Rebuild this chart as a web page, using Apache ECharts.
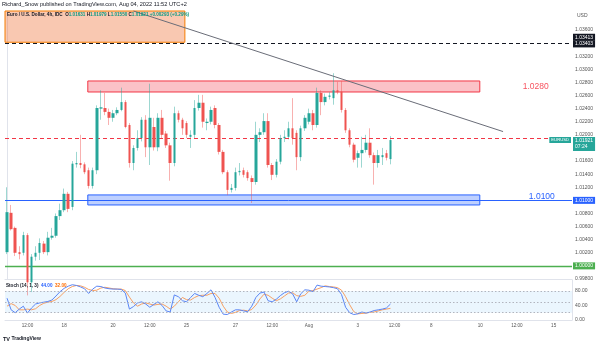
<!DOCTYPE html>
<html><head><meta charset="utf-8">
<script src="https://cdn.jsdelivr.net/npm/echarts@6/dist/echarts.min.js"></script>
<style>html,body{margin:0;padding:0;background:#fff}#c{width:601px;height:346px}</style>
</head><body><div id="c"></div>
<script>
// ---- data ----
const SLOT_COUNT = 139; // 4h slots shown on the time axis (candles + future space)
const tickLabels = {5:'12:00',14:'18',26:'20',35:'12:00',44:'25',56:'27',65:'12:00',74:'Aug',86:'3',95:'12:00',104:'8',116:'10',125:'12:00',134:'15'};
const opens  = [1.0021,1.0081,1.0058,1.0021,1.0020,1.0047,0.9975,1.0014,1.0020,1.0034,1.0021,1.0043,1.0046,1.0076,1.0085,1.0110,1.0090,1.0155,1.0157,1.0155,1.0146,1.0122,1.0146,1.0240,1.0241,1.0235,1.0226,1.0233,1.0238,1.0250,1.0215,1.0157,1.0180,1.0195,1.0223,1.0181,1.0212,1.0181,1.0226,1.0202,1.0184,1.0157,1.0233,1.0223,1.0218,1.0197,1.0200,1.0241,1.0249,1.0218,1.0220,1.0241,1.0215,1.0174,1.0143,1.0116,1.0119,1.0143,1.0146,1.0143,1.0134,1.0128,1.0200,1.0204,1.0221,1.0154,1.0139,1.0159,1.0195,1.0197,1.0210,1.0203,1.0166,1.0210,1.0220,1.0233,1.0215,1.0264,1.0250,1.0258,1.0256,1.0268,1.0266,1.0238,1.0207,1.0185,1.0165,1.0172,1.0177,1.0188,1.0169,1.0157,1.0166,1.0172,1.0163];
const closes = [1.0082,1.0056,1.0020,1.0018,1.0047,0.9975,1.0014,1.0020,1.0035,1.0021,1.0043,1.0046,1.0076,1.0085,1.0110,1.0087,1.0156,1.0157,1.0154,1.0143,1.0122,1.0146,1.0241,1.0242,1.0235,1.0226,1.0233,1.0238,1.0250,1.0212,1.0157,1.0180,1.0195,1.0223,1.0181,1.0226,1.0181,1.0226,1.0200,1.0184,1.0157,1.0233,1.0223,1.0210,1.0200,1.0200,1.0241,1.0249,1.0220,1.0220,1.0238,1.0215,1.0174,1.0143,1.0116,1.0119,1.0143,1.0145,1.0139,1.0134,1.0128,1.0200,1.0204,1.0221,1.0154,1.0139,1.0159,1.0195,1.0197,1.0210,1.0195,1.0166,1.0210,1.0226,1.0233,1.0215,1.0264,1.0250,1.0258,1.0260,1.0268,1.0265,1.0238,1.0207,1.0185,1.0162,1.0172,1.0177,1.0188,1.0169,1.0157,1.0169,1.0169,1.0165,1.0192];
const lows   = [1.0018,1.0054,1.0015,1.0010,1.0016,0.9955,0.9960,1.0008,1.0009,1.0018,1.0016,1.0040,1.0043,1.0070,1.0082,1.0082,1.0085,1.0150,1.0149,1.0140,1.0118,1.0118,1.0140,1.0223,1.0230,1.0215,1.0220,1.0230,1.0236,1.0210,1.0150,1.0146,1.0176,1.0190,1.0166,1.0154,1.0176,1.0175,1.0195,1.0180,1.0130,1.0152,1.0219,1.0200,1.0195,1.0180,1.0195,1.0237,1.0211,1.0207,1.0216,1.0210,1.0170,1.0140,1.0108,1.0112,1.0115,1.0138,1.0135,1.0130,1.0096,1.0124,1.0189,1.0200,1.0150,1.0131,1.0135,1.0155,1.0189,1.0193,1.0185,1.0146,1.0160,1.0206,1.0216,1.0207,1.0211,1.0230,1.0245,1.0254,1.0246,1.0262,1.0234,1.0203,1.0181,1.0158,1.0150,1.0150,1.0173,1.0165,1.0124,1.0150,1.0154,1.0161,1.0155];
const highs  = [1.0120,1.0093,1.0060,1.0030,1.0052,1.0050,1.0018,1.0030,1.0042,1.0038,1.0052,1.0058,1.0080,1.0095,1.0118,1.0113,1.0160,1.0174,1.0200,1.0158,1.0150,1.0150,1.0245,1.0268,1.0264,1.0240,1.0238,1.0242,1.0272,1.0253,1.0218,1.0184,1.0207,1.0227,1.0230,1.0278,1.0226,1.0233,1.0238,1.0206,1.0188,1.0243,1.0237,1.0226,1.0221,1.0207,1.0253,1.0261,1.0261,1.0225,1.0243,1.0245,1.0218,1.0177,1.0146,1.0125,1.0150,1.0157,1.0150,1.0146,1.0138,1.0220,1.0210,1.0233,1.0233,1.0157,1.0163,1.0200,1.0207,1.0220,1.0256,1.0207,1.0214,1.0230,1.0240,1.0238,1.0272,1.0268,1.0263,1.0265,1.0294,1.0281,1.0282,1.0241,1.0210,1.0188,1.0176,1.0197,1.0200,1.0210,1.0173,1.0177,1.0180,1.0177,1.0198];
const stochK = [60,28,20,30,38,19,33,44,47,49,51,55,66,78,87,93,97,95,91,86,73,85,93,92,88,86,85,85,84,74,30,37,47,50,44,35,43,50,40,25,22,69,64,53,50,62,73,68,64,73,83,62,35,16,15,22,28,28,25,23,38,62,74,77,53,50,57,67,75,79,72,50,72,83,82,78,96,93,92,91,89,86,70,35,20,15,17,22,19,22,26,28,30,33,44];
const stochD = [38,45,40,28,28,30,28,31,40,46,49,51,56,65,76,86,92,95,94,90,84,81,82,88,90,88,86,85,85,81,63,47,38,44,47,44,41,43,44,38,30,38,50,62,56,55,62,67,68,68,73,73,60,38,22,18,21,26,27,25,29,41,58,71,68,60,53,58,66,74,75,67,65,68,79,81,85,89,94,92,91,89,82,64,42,23,17,18,19,21,22,25,28,30,32];
const header = {name:'Euro / U.S. Dollar, 4h, IDC', O:'1.01631', H:'1.01979', L:'1.01550', C:'1.01921', chg:'+0.00293 (+0.29%)'};
const stochLast = {k:'44.00', d:'32.00'};
const lastPrice = 1.01921, countdown = '07:24';
const resistanceZone = [1.02822, 1.02654], supportZone = [1.01083, 1.00930];
const zoneSlots = [19.8, 115.9];
const topBox = {fromSlot:-0.5, toSlot:43.6, top:1.0389, bottom:1.03413};
const blackLevel = 1.03403, redDashLevel = 1.0195, blueLevel = 1.0100, greenLevel = 1.0000;
const trendLine = [[31, 1.0389], [121.6, 1.0205]];
const zoneTexts = [{text:'1.0280', slot:129.6, price:1.0273, color:'#f7525f'}, {text:'1.0100', slot:131.1, price:1.0105, color:'#2962ff'}];

// ---- chart ----
const F = 'Liberation Sans, Arial, sans-serif';
const slots = Array.from({length: SLOT_COUNT}, (_, i) => String(i));
const wickData = opens.map((o, i) => [o, closes[i], lows[i], highs[i]]);
const bodyData = opens.map((o, i) => [o, closes[i], Math.min(o, closes[i]), Math.max(o, closes[i])]);
const UP = '#26a69a', DN = '#ef5350';
const axisGray = '#e0e3eb';
const lblStyle = {fontSize:5, fontFamily:F, color:'#fff', padding:[1,2,1,2], distance:1};

const chart = echarts.init(document.getElementById('c'), null, {renderer:'canvas', width:601, height:346});
chart.setOption({
  animation:false,
  backgroundColor:'#ffffff',
  title:[
    {left:2, top:1, padding:0, text:'Richard_Snow published on TradingView.com, Aug 04, 2022 11:52 UTC+2',
     textStyle:{fontSize:5.6, color:'#131722', fontWeight:'normal', fontFamily:F}},
    {left:7, top:12.5, padding:0,
     text:`{n|${header.name}}  {l|O}{v|${header.O}} {l|H}{v|${header.H}} {l|L}{v|${header.L}} {l|C}{v|${header.C}} {v|${header.chg}}`,
     textStyle:{fontSize:4.6, fontFamily:F, rich:{n:{fontSize:4.6,color:'#131722',fontFamily:F},l:{fontSize:4.6,color:'#131722',fontFamily:F},v:{fontSize:4.6,color:'#089981',fontFamily:F}}}},
    {left:6, top:283, padding:0,
     text:`{n|Stoch (14, 1, 3)}  {k|${stochLast.k}}  {d|${stochLast.d}}`,
     textStyle:{fontSize:4.6, fontFamily:F, rich:{n:{fontSize:4.6,color:'#131722',fontFamily:F},k:{fontSize:4.6,color:'#2962ff',fontFamily:F},d:{fontSize:4.6,color:'#ff6d00',fontFamily:F}}}},
    {left:577, top:13, padding:0, text:'USD', textStyle:{fontSize:5, color:'#555', fontWeight:'normal', fontFamily:F}},
    {left:3, top:336, padding:0, text:'{b|TV} {n|TradingView}',
     textStyle:{fontSize:5, fontFamily:F, rich:{b:{fontSize:5.5,fontWeight:'bold',color:'#131722',fontFamily:F},n:{fontSize:5,color:'#131722',fontFamily:F}}}}
  ],
  grid:[
    {left:5, right:29, top:11, height:268, outerBoundsMode:'none'},
    {left:5, right:29, top:280, height:40, outerBoundsMode:'none'}
  ],
  xAxis:[
    {type:'category', gridIndex:0, data:slots, boundaryGap:true, axisLabel:{show:false}, axisTick:{show:false},
     axisLine:{show:true, lineStyle:{color:axisGray}}, splitLine:{show:false}},
    {type:'value', gridIndex:0, min:-0.5, max:SLOT_COUNT-0.5, show:false},
    {type:'category', gridIndex:1, data:slots, boundaryGap:true, axisTick:{show:false},
     axisLine:{show:true, lineStyle:{color:axisGray}}, splitLine:{show:false},
     axisLabel:{interval:0, margin:3, fontSize:4.6, color:'#555', fontFamily:F, formatter:(v, i) => tickLabels[i] || ''}}
  ],
  yAxis:[
    {type:'value', gridIndex:0, position:'right', min:0.998, max:1.0389, interval:0.002,
     axisLine:{show:true, lineStyle:{color:axisGray}}, axisTick:{show:false}, splitLine:{show:false},
     axisLabel:{margin:3, fontSize:5, color:'#555', fontFamily:F, formatter:v => {
       const k = Math.round(v / 0.002);
       if (Math.abs(v - k * 0.002) > 1e-7 || v > 1.037) return '';
       return v.toFixed(5);
     }}},
    {type:'value', gridIndex:1, position:'right', min:0, max:110, interval:40,
     axisLine:{show:true, lineStyle:{color:axisGray}}, axisTick:{show:false}, splitLine:{show:false},
     axisLabel:{margin:3, fontSize:5, color:'#555', fontFamily:F, formatter:v => v > 100 ? '' : v.toFixed(2)}}
  ],
  series:[
    // overlays in the main pane (drawn on the value x-axis)
    {type:'line', xAxisIndex:1, yAxisIndex:0, data:[], silent:true, z:1,
     markArea:{silent:true, data:[
       [{coord:[topBox.fromSlot, topBox.top], itemStyle:{color:'rgba(240,110,50,0.38)', borderColor:'#f57c00', borderWidth:1}},
        {coord:[topBox.toSlot, topBox.bottom]}],
       [{coord:[zoneSlots[0], resistanceZone[0]], itemStyle:{color:'rgba(242,54,69,0.3)', borderColor:'#f23645', borderWidth:1}},
        {coord:[zoneSlots[1], resistanceZone[1]]}],
       [{coord:[zoneSlots[0], supportZone[0]], itemStyle:{color:'rgba(41,98,255,0.3)', borderColor:'#2962ff', borderWidth:1}},
        {coord:[zoneSlots[1], supportZone[1]]}]
     ]}},
    {type:'line', xAxisIndex:1, yAxisIndex:0, data:[], silent:true, z:3,
     markLine:{silent:true, precision:5, symbol:['none','none'], data:[
       {yAxis:blackLevel, lineStyle:{color:'#131722', width:1, type:[4,3]},
        label:{...lblStyle, show:true, position:'end', formatter:blackLevel.toFixed(5), backgroundColor:'#131722', offset:[0,1]}},
       {yAxis:topBox.bottom, lineStyle:{color:'rgba(0,0,0,0)'},
        label:{...lblStyle, show:true, position:'end', formatter:topBox.bottom.toFixed(5), backgroundColor:'#131722', offset:[0,-5]}},
       {yAxis:redDashLevel, lineStyle:{color:'#f23645', width:1, type:[4,3]}, label:{show:false}},
       {yAxis:blueLevel, lineStyle:{color:'#2962ff', width:1, type:'solid'},
        label:{...lblStyle, show:true, position:'end', formatter:blueLevel.toFixed(5), backgroundColor:'#2962ff'}},
       {yAxis:greenLevel, lineStyle:{color:'#4caf50', width:1.3, type:'solid'},
        label:{...lblStyle, show:true, position:'end', formatter:greenLevel.toFixed(5), backgroundColor:'#4caf50'}},
       {yAxis:lastPrice, lineStyle:{color:'rgba(0,0,0,0)'},
        label:{...lblStyle, show:true, position:'end', formatter:lastPrice.toFixed(5) + '\n' + countdown, backgroundColor:UP, lineHeight:6, offset:[0,4]}},
       {yAxis:lastPrice, lineStyle:{color:'rgba(0,0,0,0)'},
        label:{...lblStyle, show:true, position:'insideEnd', formatter:'EURUSD', backgroundColor:UP, fontSize:4.2, distance:1}},
       [{coord:trendLine[0], lineStyle:{color:'#6a6d78', width:1, type:'solid'}, label:{show:false}}, {coord:trendLine[1]}]
     ]},
     markPoint:{silent:true, symbol:'circle', symbolSize:0, data: zoneTexts.map(t => ({coord:[t.slot, t.price],
       label:{show:true, formatter:t.text, color:t.color, fontSize:8.5, fontFamily:F, position:'inside'}}))}},
    // candles: wick layer then body layer
    {type:'candlestick', xAxisIndex:0, yAxisIndex:0, data:wickData, barWidth:1, z:4,
     itemStyle:{color:'rgba(38,166,154,0.45)', color0:'rgba(239,83,80,0.45)', borderColor:'rgba(38,166,154,0.45)', borderColor0:'rgba(239,83,80,0.45)', borderWidth:1}},
    {type:'candlestick', xAxisIndex:0, yAxisIndex:0, data:bodyData, barWidth:3, z:5,
     itemStyle:{color:UP, color0:DN, borderColor:UP, borderColor0:DN, borderWidth:0}},
    // stochastic
    {type:'line', xAxisIndex:2, yAxisIndex:1, data:stochD, symbol:'none', lineStyle:{color:'#f7a063', width:1}, z:3,
     markArea:{silent:true, data:[[{yAxis:20, itemStyle:{color:'rgba(33,150,243,0.09)'}}, {yAxis:80}]]},
     markLine:{silent:true, symbol:['none','none'], label:{show:false}, lineStyle:{color:'#b2b5be', type:[1.5,2], width:1},
       data:[{yAxis:80},{yAxis:50},{yAxis:20}]}},
    {type:'line', xAxisIndex:2, yAxisIndex:1, data:stochK, symbol:'none', lineStyle:{color:'#5b86f5', width:1}, z:4}
  ]
});
</script></body></html>
